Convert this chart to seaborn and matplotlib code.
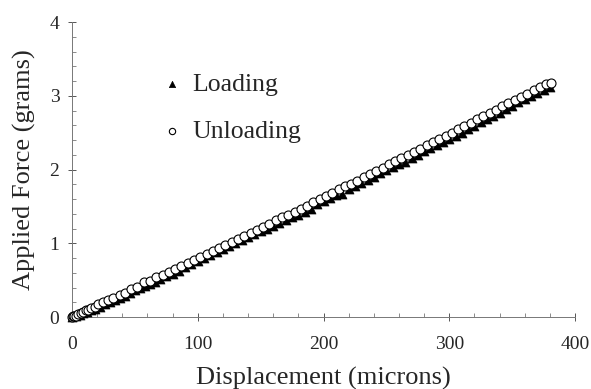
import matplotlib
matplotlib.use("Agg")
import matplotlib.pyplot as plt
import seaborn as sns
import pandas as pd
from matplotlib.ticker import MultipleLocator

# ---------------- data ----------------
loading_x = [0, 3, 6, 9, 12, 15, 18, 22, 26, 30, 34, 38, 42, 46, 50, 54, 58, 62, 66, 70,
             75, 80, 85, 90, 95, 100, 105, 110, 115, 120, 125, 130, 135, 140, 145, 150,
             155, 160, 165, 170, 175, 180, 185, 190, 195, 200, 205, 210, 215, 220, 225,
             230, 235, 240, 245, 250, 255, 260, 265, 270, 275, 280, 285, 290, 295, 300,
             305, 310, 315, 320, 325, 330, 335, 340, 345, 350, 355, 360, 365, 370, 375, 380]
loading_y = [0.00, 0.01, 0.03, 0.05, 0.07, 0.09, 0.11, 0.14, 0.17, 0.20, 0.23, 0.26, 0.29,
             0.33, 0.36, 0.39, 0.42, 0.45, 0.48, 0.51, 0.55, 0.59, 0.63, 0.68, 0.72, 0.76,
             0.80, 0.84, 0.88, 0.92, 0.96, 1.00, 1.04, 1.08, 1.12, 1.16, 1.20, 1.24, 1.28,
             1.32, 1.36, 1.38, 1.42, 1.47, 1.53, 1.57, 1.61, 1.65, 1.67, 1.73, 1.78, 1.82,
             1.86, 1.90, 1.95, 1.99, 2.03, 2.07, 2.10, 2.15, 2.20, 2.25, 2.29, 2.33, 2.37,
             2.42, 2.46, 2.50, 2.55, 2.59, 2.64, 2.68, 2.73, 2.77, 2.82, 2.86, 2.91, 2.95,
             3.00, 3.04, 3.08, 3.12]

unloading_x = [0, 1, 2, 3, 5, 7, 9, 11, 13, 15, 18, 21, 25, 29, 33, 38, 42, 47, 52, 57,
               62, 67, 72, 77, 82, 87, 92, 97, 102, 107, 112, 117, 122, 127, 132, 137, 142,
               147, 152, 157, 162, 167, 172, 177, 182, 187, 192, 197, 202, 207, 212, 217,
               222, 227, 232, 237, 242, 247, 252, 257, 262, 267, 272, 277, 282, 287, 292,
               297, 302, 307, 312, 317, 322, 327, 332, 337, 342, 347, 352, 357, 362, 367,
               372, 377, 381]
unloading_y = [0.00, 0.01, 0.02, 0.02, 0.04, 0.05, 0.07, 0.09, 0.10, 0.12, 0.14, 0.17,
               0.20, 0.23, 0.26, 0.30, 0.33, 0.38, 0.41, 0.47, 0.49, 0.54, 0.57, 0.61,
               0.65, 0.69, 0.73, 0.77, 0.81, 0.85, 0.89, 0.93, 0.98, 1.02, 1.06, 1.10,
               1.14, 1.18, 1.22, 1.26, 1.31, 1.35, 1.39, 1.43, 1.47, 1.51, 1.56, 1.60,
               1.64, 1.68, 1.73, 1.77, 1.81, 1.85, 1.90, 1.94, 1.98, 2.02, 2.07, 2.11,
               2.15, 2.20, 2.24, 2.28, 2.33, 2.37, 2.41, 2.46, 2.50, 2.55, 2.59, 2.63,
               2.68, 2.72, 2.77, 2.81, 2.86, 2.90, 2.94, 2.99, 3.03, 3.08, 3.12, 3.16, 3.17]

x_ticks = [0, 100, 200, 300, 400]
y_ticks = [0, 1, 2, 3, 4]
x_label = "Displacement (microns)"
y_label = "Applied Force (grams)"
series_names = ["Loading", "Unloading"]

# ---------------- plot ----------------
sns.set_style("white")
plt.rcParams["font.family"] = ["Liberation Serif", "DejaVu Serif"]

df_load = pd.DataFrame({"x": loading_x, "y": loading_y})
df_unload = pd.DataFrame({"x": unloading_x, "y": unloading_y})

fig = plt.figure(figsize=(5.91, 3.89), dpi=100)
ax = fig.add_axes([0.1218, 0.185, 0.973 - 0.1218, 0.9434 - 0.185])

sns.scatterplot(data=df_load, x="x", y="y", ax=ax, marker="^", s=42,
                color="black", edgecolor="black", linewidth=0.5,
                label=series_names[0], clip_on=False, zorder=3)
sns.scatterplot(data=df_unload, x="x", y="y", ax=ax, marker="o", s=42,
                color="white", edgecolor="black", linewidth=0.8,
                label=series_names[1], clip_on=False, zorder=4)

ax.set_xlim(0, 400)
ax.set_ylim(0, 4)
ax.set_xticks(x_ticks)
ax.set_yticks(y_ticks)
ax.xaxis.set_minor_locator(MultipleLocator(20))
ax.yaxis.set_minor_locator(MultipleLocator(0.2))
ax.tick_params(axis="both", which="major", direction="inout", length=6, width=0.7,
               color="#555555", labelsize=14, pad=6)
ax.tick_params(axis="x", which="major", pad=11)
ax.tick_params(axis="both", which="minor", direction="in", length=3, width=0.6,
               color="#777777")
ax.tick_params(axis="x", which="both", bottom=True)
ax.tick_params(axis="y", which="both", left=True)

for side in ["top", "right"]:
    ax.spines[side].set_visible(False)
for side in ["left", "bottom"]:
    ax.spines[side].set_color("#777777")
    ax.spines[side].set_linewidth(0.7)

ax.set_xlabel(x_label, fontsize=19, labelpad=10)
ax.set_ylabel(y_label, fontsize=19, labelpad=10)

leg = ax.legend(loc="upper left", bbox_to_anchor=(0.269, 0.812),
                bbox_transform=fig.transFigure, frameon=False, fontsize=18.5,
                handlelength=1.0, handletextpad=0.3, labelspacing=0.92,
                borderpad=0, borderaxespad=0, markerscale=0.7)

fig.savefig("out.png", dpi=100)
